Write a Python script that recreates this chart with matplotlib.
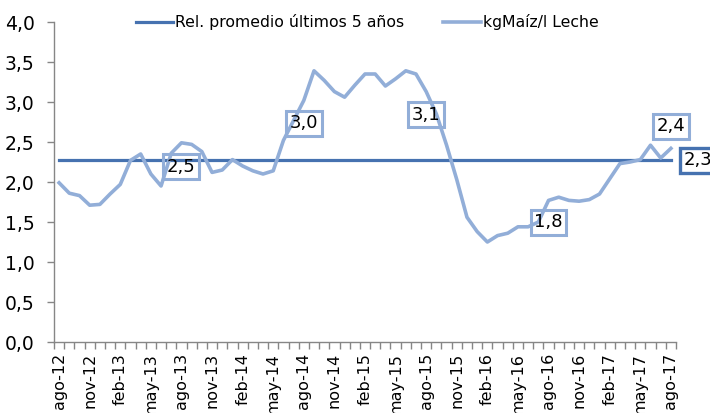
import numpy as np
import matplotlib
matplotlib.use("Agg")
import matplotlib.pyplot as plt
from matplotlib.ticker import FuncFormatter

# Data ----------------------------------------------------------------------
meses = ["ene", "feb", "mar", "abr", "may", "jun", "jul", "ago", "sep", "oct", "nov", "dic"]
fechas = []
for k in range(61):
    m = (7 + k) % 12
    a = 12 + (7 + k) // 12
    fechas.append("{}-{}".format(meses[m], a))

maiz_leche = [1.99, 1.86, 1.83, 1.71, 1.72, 1.85, 1.97, 2.27, 2.35, 2.10,
              1.95, 2.36, 2.49, 2.47, 2.38, 2.12, 2.15, 2.28, 2.20, 2.14,
              2.10, 2.14, 2.52, 2.77, 3.02, 3.39, 3.27, 3.13, 3.06, 3.21,
              3.35, 3.35, 3.20, 3.29, 3.39, 3.35, 3.13, 2.85, 2.46, 2.03,
              1.56, 1.38, 1.25, 1.33, 1.36, 1.44, 1.44, 1.50, 1.77, 1.81,
              1.77, 1.76, 1.78, 1.85, 2.04, 2.23, 2.25, 2.28, 2.46, 2.30,
              2.42]
promedio_5 = [2.27] * 61

# etiquetas (indice, texto, desplazamiento en px)
etiquetas = [(12, "2,5", -24), (24, "3,0", -23), (36, "3,1", -23),
             (48, "1,8", -22), (60, "2,4", 22)]

c_prom = "#4672B0"
c_serie = "#92AED8"

fig = plt.figure(figsize=(7.1, 4.13), dpi=100)
ax = fig.add_axes([54 / 710, 71 / 413, 622 / 710, 320 / 413])

x = np.arange(len(fechas))
ax.plot(x, promedio_5, color=c_prom, lw=2.3, label="Rel. promedio últimos 5 años", zorder=2)
ax.plot(x, maiz_leche, color=c_serie, lw=2.6, label="kgMaíz/l Leche", zorder=3)

# data labels
for i, txt, dy in etiquetas:
    ax.annotate(txt, (x[i], maiz_leche[i]), xytext=(0, dy), textcoords="offset pixels",
                ha="center", va="center", fontsize=13, zorder=4,
                bbox=dict(boxstyle="square,pad=0.2", fc="none", ec=c_serie, lw=2.2),
                annotation_clip=False)
ax.annotate("2,3", (x[-1], promedio_5[-1]), xytext=(13, 0), textcoords="offset pixels",
            ha="left", va="center", fontsize=13, zorder=4,
            bbox=dict(boxstyle="square,pad=0.2", fc="white", ec=c_prom, lw=2.4),
            annotation_clip=False)

# axes
ax.set_xlim(-0.5, len(fechas) - 0.5)
ax.set_ylim(0, 4)
ax.set_yticks(np.arange(0, 4.01, 0.5))
ax.yaxis.set_major_formatter(FuncFormatter(lambda v, p: "{:.1f}".format(v).replace(".", ",")))
ax.set_xticks(x[::3])
ax.set_xticklabels(fechas[::3], rotation=90, fontsize=11.5)
ax.set_xticks(np.arange(-0.5, len(fechas), 1), minor=True)
ax.tick_params(axis="x", which="major", length=0, pad=8)
ax.tick_params(axis="x", which="minor", length=5, color="#868686", width=1)
ax.tick_params(axis="y", labelsize=13.5, length=5, color="#868686", width=1, pad=9)
for s in ["top", "right"]:
    ax.spines[s].set_visible(False)
for s in ["left", "bottom"]:
    ax.spines[s].set_color("#868686")
    ax.spines[s].set_linewidth(1)

fig.legend(loc="center", bbox_to_anchor=(367 / 710, 1 - 22 / 413), ncol=2, frameon=False,
           fontsize=11.3, handlelength=2.4, handletextpad=0.1, columnspacing=2.5)

fig.savefig("out.png", dpi=100)
